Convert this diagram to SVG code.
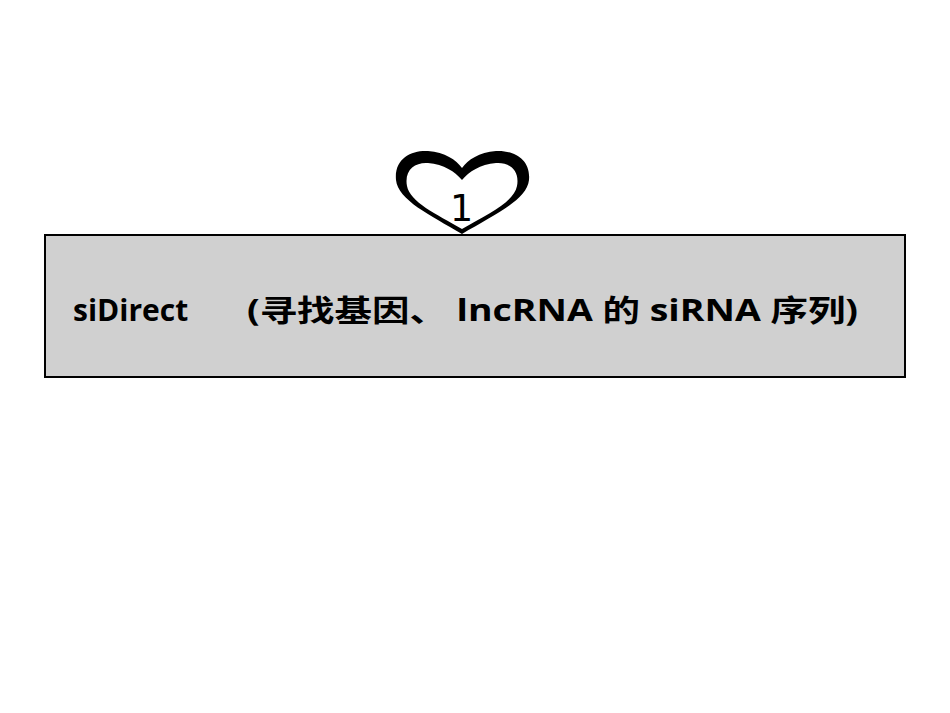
<svg xmlns="http://www.w3.org/2000/svg" width="950" height="713" viewBox="0 0 950 713">
<style>
.t{font-family:"Open Sans","Noto Sans CJK SC",sans-serif;font-weight:bold;font-size:30px;fill:#000}
</style>
<rect width="950" height="713" fill="#fff"/>
<g id="heart">
<path fill-rule="evenodd" fill="#000" d="M462,234 C430,215 398,200 396,180 C394,158 412,150 428,151 C445,152 456,160 462,168 C468,160 479,152 496,151 C512,150 531,158 529,180 C527,200 494,215 462,234 Z M462,229 C436,214 410,202 407,186 C404,170 415,162 428,163 C444,164 455,172 462,180 C469,172 480,164 496,163 C509,162 520,170 517,186 C514,202 488,214 462,229 Z"/>
<text x="461" y="221" text-anchor="middle" font-family="DejaVu Sans Mono, monospace" font-size="38">1</text>
</g>
<g id="box">
<rect x="45" y="235" width="860" height="142" fill="#d0d0d0" stroke="#000" stroke-width="2"/>
<text class="t" x="73" y="321">siDirect</text>
<text class="t" x="247" y="321" textLength="611" lengthAdjust="spacingAndGlyphs">(寻找基因、 lncRNA 的 siRNA 序列)</text>
</g>
<g id="connectors"/>
</svg>
